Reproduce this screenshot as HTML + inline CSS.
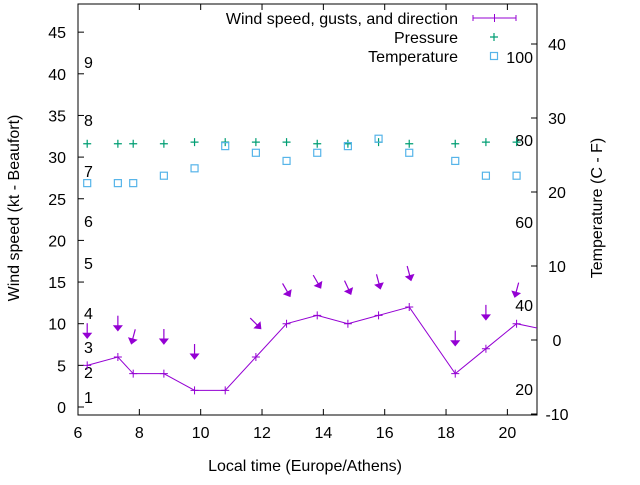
<!DOCTYPE html>
<html><head><meta charset="utf-8"><style>
body{margin:0;background:#fff}
svg text{font-family:"Liberation Sans",sans-serif;font-size:16px;fill:#000}
</style></head><body>
<svg id="chart" width="640" height="480" viewBox="0 0 640 480" xmlns="http://www.w3.org/2000/svg">
<defs>
<clipPath id="clip"><rect x="78" y="4" width="459" height="411"/></clipPath>
</defs>
<g id="axes"></g>
<g id="marks" clip-path="url(#clip)"></g>
<g id="legend"></g>
</svg>
<script>
const times=[6.3,7.3,7.8,8.8,9.8,10.8,11.8,12.8,13.8,14.8,15.8,16.8,18.3,19.3,20.3,21.2];
const windKt=[5,6,4,4,2,2,6,10,11,10,11,12,4,7,10,9.3];
const gustTimes=[6.3,7.3,7.8,8.8,9.8,11.8,12.8,13.8,14.8,15.8,16.8,18.3,19.3,20.3];
const gustKt=[9.1,10,8.4,8.4,6.6,10,14,15,14.3,15,16,8.2,11.3,14];
const gustTilt=[0,0,-15,0,0,45,30,30,25,15,15,0,0,-15];
const pressTimes=[6.3,7.3,7.8,8.8,9.8,10.8,11.8,12.8,13.8,14.8,15.8,16.8,18.3,19.3,20.3];
const pressure=[31.6,31.6,31.6,31.6,31.8,31.8,31.8,31.8,31.6,31.6,31.8,31.6,31.6,31.8,31.8];
const tempC=[21.2,21.2,21.2,22.2,23.2,26.2,25.3,24.2,25.3,26.2,27.2,25.3,24.2,22.2,22.2];
const xTicks=[6,8,10,12,14,16,18,20];
const yTicks=[0,5,10,15,20,25,30,35,40,45];
const y2Ticks=[-10,0,10,20,30,40];
const beaufort=[[1,397],[2,372],[3,347],[4,313],[5,263],[6,221],[7,171],[8,120],[9,62]];
const fahr=[[20,389],[40,305],[60,222],[80,140],[100,57]];

const L=78,R=537,T=4,B=415;
const X=t=>L+(t-6)*30.67;
const Y=v=>407-v*8.33;
const Y2=c=>340-c*7.4;
const NS='http://www.w3.org/2000/svg';
function mk(tag,at,parent,txt){const e=document.createElementNS(NS,tag);for(const k in at)e.setAttribute(k,at[k]);if(txt!==undefined)e.textContent=txt;parent.appendChild(e);return e;}
const axes=document.getElementById('axes'),marks=document.getElementById('marks'),leg=document.getElementById('legend');
let e=mk('rect',{x:L,y:T,width:R-L,height:B-T,fill:'none',stroke:'#000','stroke-width':1},axes);


xTicks.forEach(t=>{const x=X(t);
 mk('line',{x1:x,y1:B,x2:x,y2:B-6,stroke:'#000'},axes);
 mk('line',{x1:x,y1:T,x2:x,y2:T+6,stroke:'#000'},axes);
 e=mk('text',{x:x,y:B+23,'text-anchor':'middle'},axes,t);
 
 
});
yTicks.forEach(v=>{const y=Y(v);
 mk('line',{x1:L,y1:y,x2:L+6,y2:y,stroke:'#000'},axes);
 e=mk('text',{x:L-12,y:y+6,'text-anchor':'end'},axes,v);
 
 
});
y2Ticks.forEach(v=>{const y=Y2(v);
 mk('line',{x1:R,y1:y,x2:R-6,y2:y,stroke:'#000'},axes);
 e=mk('text',{x:R+20,y:y+6,'text-anchor':'middle'},axes,v);
 
 
});
beaufort.forEach(([b,y])=>{e=mk('text',{x:84,y:y+6},axes,b);
 
 });
fahr.forEach(([f,y])=>{e=mk('text',{x:533,y:y+6,'text-anchor':'end'},axes,f);
 
 });
e=mk('text',{x:305,y:471,'text-anchor':'middle'},axes,'Local time (Europe/Athens)');


e=mk('text',{x:0,y:0,'text-anchor':'middle',transform:'translate(19,208) rotate(-90)'},axes,'Wind speed (kt - Beaufort)');


e=mk('text',{x:0,y:0,'text-anchor':'middle',transform:'translate(602,208) rotate(-90)'},axes,'Temperature (C - F)');



const P='#9400d3';
e=mk('polyline',{points:times.map((t,i)=>X(t)+','+Y(windKt[i])).join(' '),fill:'none',stroke:P,'stroke-width':1},marks);


times.forEach((t,i)=>{const x=X(t),y=Y(windKt[i]);
 e=mk('path',{d:`M${x-4} ${y}H${x+4}M${x} ${y-4}V${y+4}`,stroke:P,'stroke-width':1},marks);
 
 
});
gustTimes.forEach((t,i)=>{const x=X(t),y=Y(gustKt[i]);
 const g=mk('g',{transform:`translate(${x},${y}) rotate(${-gustTilt[i]})`},marks);
 
 
 mk('line',{x1:0,y1:-8,x2:0,y2:5,stroke:P,'stroke-width':1.2},g);
 mk('path',{d:'M-4 2L4 2L0 7Z',fill:P,stroke:P},g);
});
const G='#009e73';
pressTimes.forEach((t,i)=>{const x=X(t),y=Y(pressure[i]);
 e=mk('path',{d:`M${x-4} ${y}H${x+4}M${x} ${y-4}V${y+4}`,stroke:G,'stroke-width':1.2},marks);
 
 
});
const C='#56b4e9';
pressTimes.forEach((t,i)=>{const x=X(t),y=Y2(tempC[i]);
 e=mk('rect',{x:x-3.5,y:y-3.5,width:7,height:7,fill:'none',stroke:C,'stroke-width':1.2},marks);
 
 
});
e=mk('text',{x:458,y:24,'text-anchor':'end'},leg,'Wind speed, gusts, and direction');


mk('path',{d:'M473 18H516M473 15V21M516 15V21M494.5 14V22',stroke:P,fill:'none'},leg);
e=mk('text',{x:458,y:43,'text-anchor':'end'},leg,'Pressure');


mk('path',{d:'M490 37H498M494 33V41',stroke:G,'stroke-width':1.2},leg);
e=mk('text',{x:458,y:62,'text-anchor':'end'},leg,'Temperature');


mk('rect',{x:490.5,y:52.5,width:7,height:7,fill:'none',stroke:C,'stroke-width':1.2},leg);
</script>
</body></html>
